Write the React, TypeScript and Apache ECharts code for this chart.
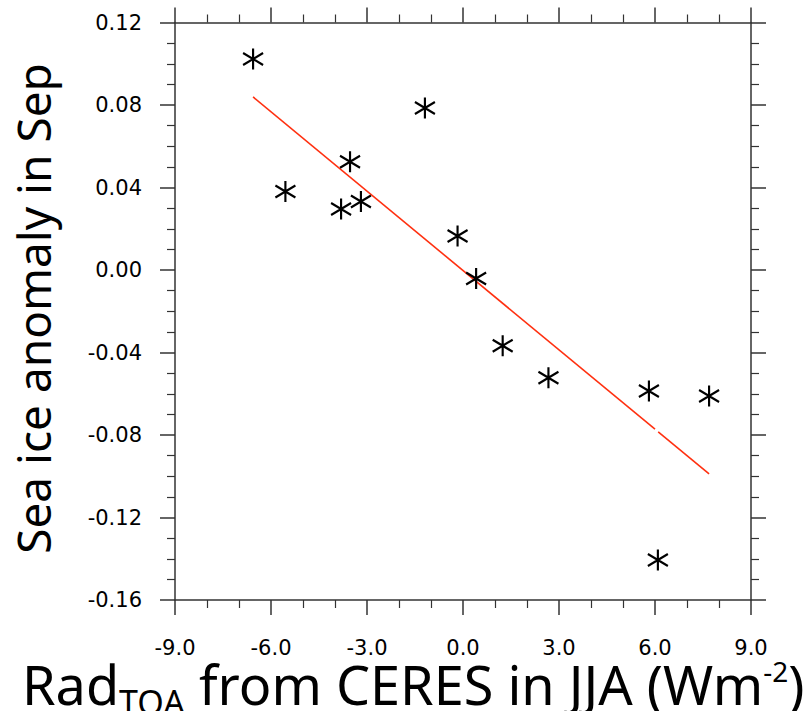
import React, { useEffect, useRef } from 'react';
import * as echarts from 'echarts';

// Scatter data (x: Rad_TOA anomaly, y: sea-ice anomaly)
const radToa = [-6.56, -5.55, -3.81, -3.53, -3.19, -1.19, -0.17, 0.41, 1.24, 2.67, 5.81, 7.69, 6.09];
const seaIce = [0.1023, 0.0381, 0.0296, 0.0525, 0.0332, 0.0785, 0.0165, -0.0041, -0.0367, -0.0522, -0.0587, -0.0611, -0.1406];

// Regression line (two pieces, small gap as in the reference)
const fitPartAX = [-6.56, 6.0];
const fitPartAY = [0.0839, -0.0772];
const fitPartBX = [6.1, 7.69];
const fitPartBY = [-0.0785, -0.0989];

// Axis ranges / ticks
const xMin = -9, xMax = 9, xStep = 3;
const yMin = -0.16, yMax = 0.12, yStep = 0.04;

const STAR = 'path://M10,0L10,21M0,4.5L20,16.5M0,16.5L20,4.5';
const AXIS_COLOR = '#333';
const TICK_FONT = 'DejaVu Sans';
const TITLE_FONT = 'Noto Sans';

export default function App() {
  const ref = useRef<HTMLDivElement>(null);
  useEffect(() => {
    if (!ref.current) return;
    const chart = echarts.init(ref.current, undefined, { renderer: 'svg' });
    const lineStyle = { color: AXIS_COLOR, width: 1.5 };
    const xAxisBase = (pos: 'bottom' | 'top') => ({
      type: 'value',
      position: pos,
      min: xMin,
      max: xMax,
      interval: xStep,
      axisLine: { show: true, onZero: false, lineStyle },
      axisTick: { show: true, length: 15, lineStyle },
      minorTick: { show: true, splitNumber: 3, length: 8, lineStyle: { color: AXIS_COLOR, width: 1.2 } },
      splitLine: { show: false },
      axisLabel: {
        show: pos === 'bottom',
        margin: 37,
        color: '#000',
        fontFamily: TICK_FONT,
        fontSize: 21,
        formatter: (v: number) => v.toFixed(1),
      },
    });
    const yAxisBase = (pos: 'left' | 'right') => ({
      type: 'value',
      position: pos,
      min: yMin,
      max: yMax,
      interval: yStep,
      axisLine: { show: true, onZero: false, lineStyle },
      axisTick: { show: true, length: 15, lineStyle },
      minorTick: { show: true, splitNumber: 4, length: 8, lineStyle: { color: AXIS_COLOR, width: 1.2 } },
      splitLine: { show: false },
      axisLabel: {
        show: pos === 'left',
        margin: 33,
        color: '#000',
        fontFamily: TICK_FONT,
        fontSize: 21,
        formatter: (v: number) => (Math.abs(v) < 1e-9 ? 0 : v).toFixed(2),
      },
    });

    chart.setOption({
      animation: false,
      backgroundColor: '#fff',
      grid: { left: 175, top: 22.5, width: 576, height: 577.5, containLabel: false },
      xAxis: [xAxisBase('bottom'), xAxisBase('top')],
      yAxis: [yAxisBase('left'), yAxisBase('right')],
      series: [
        {
          type: 'line',
          xAxisIndex: 0,
          yAxisIndex: 0,
          symbol: 'none',
          lineStyle: { color: '#ff3010', width: 1.6 },
          data: fitPartAX.map((x, i) => [x, fitPartAY[i]]),
          z: 1,
        },
        {
          type: 'line',
          xAxisIndex: 0,
          yAxisIndex: 0,
          symbol: 'none',
          lineStyle: { color: '#ff3010', width: 1.6 },
          data: fitPartBX.map((x, i) => [x, fitPartBY[i]]),
          z: 1,
        },
        {
          type: 'scatter',
          xAxisIndex: 0,
          yAxisIndex: 0,
          symbol: STAR,
          symbolSize: [20, 21],
          itemStyle: { color: '#000', borderColor: '#000', borderWidth: 2.2, opacity: 1 },
          data: radToa.map((x, i) => [x, seaIce[i]]),
          z: 3,
        },
      ],
      graphic: [
        {
          type: 'text',
          x: 33,
          y: 308.5,
          rotation: Math.PI / 2,
          style: {
            text: 'Sea ice anomaly in Sep',
            fill: '#000',
            font: `46px "${TITLE_FONT}"`,
            align: 'center',
            verticalAlign: 'middle',
          },
        },
        {
          type: 'text',
          x: 22,
          y: 649,
          style: {
            text: '{a|Rad}{sub|TOA}{a| from CERES in JJA (Wm}{sup|-2}{a|)}',
            fill: '#000',
            align: 'left',
            verticalAlign: 'top',
            rich: {
              a: { fontFamily: TITLE_FONT, fontSize: 54, lineHeight: 70, verticalAlign: 'middle', fill: '#000' },
              sub: { fontFamily: TITLE_FONT, fontSize: 34, lineHeight: 44, verticalAlign: 'bottom', fill: '#000' },
              sup: { fontFamily: TITLE_FONT, fontSize: 28, verticalAlign: 'top', padding: [8, 0, 0, 0], fill: '#000' },
            },
          },
        },
      ],
    });
    return () => chart.dispose();
  }, []);
  return <div ref={ref} style={{ width: 809, height: 711, position: 'absolute', left: 0, top: 0 }} />;
}
